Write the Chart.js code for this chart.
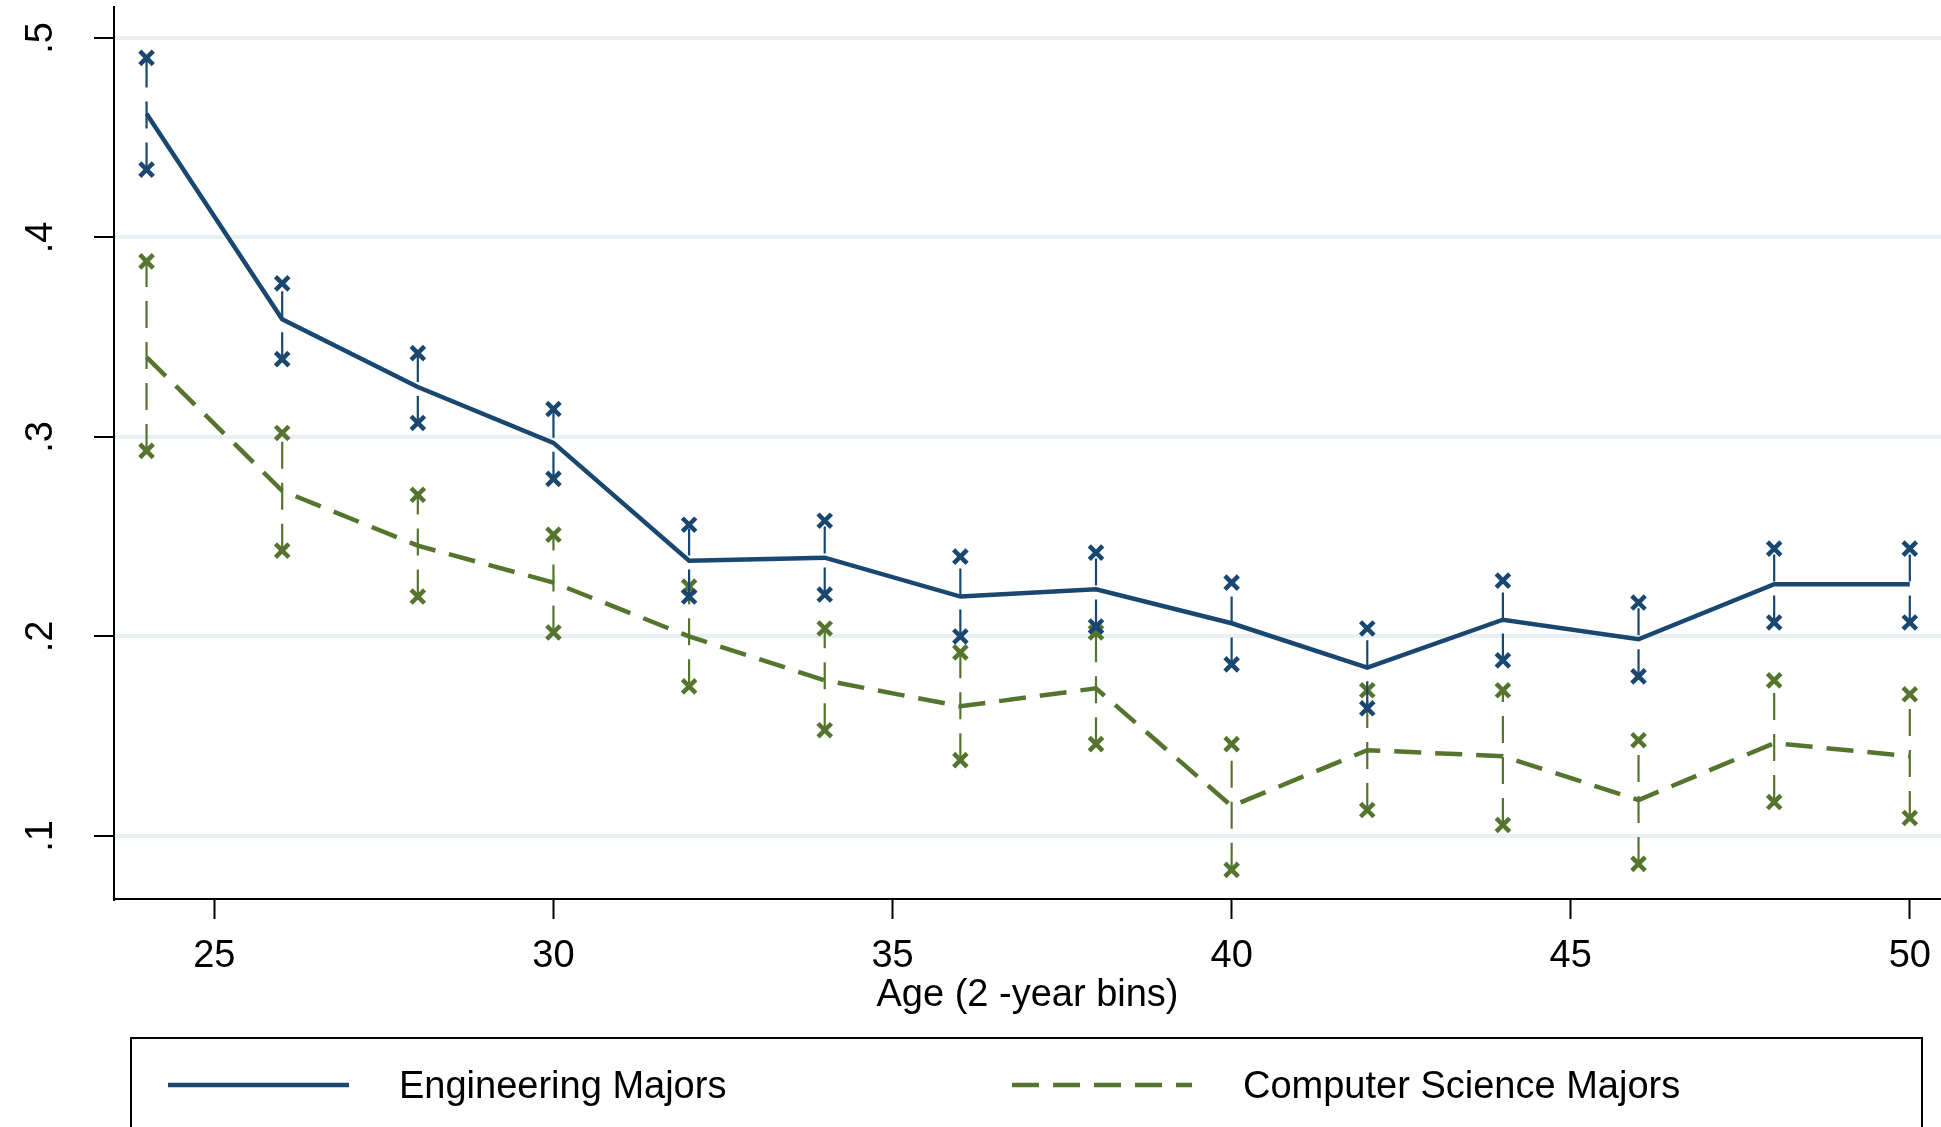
<!DOCTYPE html>
<html>
<head>
<meta charset="utf-8">
<title>Engineering vs Computer Science Majors by age</title>
<script src="https://cdn.jsdelivr.net/npm/chart.js@4.4.1/dist/chart.umd.min.js"></script>
<style>
  html, body { margin: 0; padding: 0; background: #fff; overflow: hidden; }
  #wrap { width: 1941px; height: 1127px; position: relative; }
</style>
</head>
<body>
<div id="wrap"><canvas id="chart"></canvas></div>
<script>
/* ---------- Data ---------- */
const ages = [24, 26, 28, 30, 32, 34, 36, 38, 40, 42, 44, 46, 48, 50];

const engMean = [0.462, 0.359, 0.325, 0.297, 0.238, 0.2395, 0.220, 0.2236, 0.2066, 0.1844, 0.2084, 0.1986, 0.2262, 0.2262];
const engHi   = [0.490, 0.377, 0.342, 0.314, 0.256, 0.258, 0.240, 0.242, 0.227, 0.204, 0.228, 0.217, 0.244, 0.244];
const engLo   = [0.434, 0.339, 0.307, 0.279, 0.220, 0.221, 0.200, 0.205, 0.186, 0.164, 0.188, 0.180, 0.207, 0.207];

const csMean = [0.340, 0.273, 0.2455, 0.227, 0.200, 0.178, 0.165, 0.174, 0.115, 0.143, 0.140, 0.118, 0.1465, 0.140];
const csHi   = [0.388, 0.302, 0.271, 0.251, 0.225, 0.204, 0.192, 0.202, 0.146, 0.173, 0.173, 0.148, 0.178, 0.171];
const csLo   = [0.293, 0.243, 0.220, 0.202, 0.175, 0.153, 0.138, 0.146, 0.083, 0.113, 0.1055, 0.086, 0.117, 0.109];

const xTicks = [25, 30, 35, 40, 45, 50];
const yTicks = [0.1, 0.2, 0.3, 0.4, 0.5];
const yTickLabels = [".1", ".2", ".3", ".4", ".5"];

const seriesNames = ["Engineering Majors", "Computer Science Majors"];
const xTitle = "Age (2 -year bins)";

/* ---------- Style ---------- */
const BLUE = "#1a476f";
const GREEN = "#55752f";
const FONT = "'Liberation Sans', Arial, sans-serif";
const FS = 38;
const DASH = [27, 14];

// vertical CI spikes, drawn lo -> hi, broken by a null between ages
function ciPoints(lo, hi) {
  const pts = [];
  ages.forEach((a, i) => {
    pts.push({ x: a, y: lo[i] }, { x: a, y: hi[i] }, { x: a, y: null });
  });
  return pts;
}
const line = (ys) => ages.map((a, i) => ({ x: a, y: ys[i] }));

/* ---------- Plugins ---------- */
// y tick labels turned 90°, as in the original
const rotatedYLabels = {
  id: "rotatedYLabels",
  afterDraw(chart) {
    const ctx = chart.ctx, s = chart.scales.y;
    ctx.save();
    ctx.font = FS + "px " + FONT;
    ctx.fillStyle = "#000";
    ctx.textAlign = "center";
    ctx.textBaseline = "alphabetic";
    yTicks.forEach((v, i) => {
      ctx.save();
      ctx.translate(52, s.getPixelForValue(v));
      ctx.rotate(-Math.PI / 2);
      ctx.fillText(yTickLabels[i], 0, 0);
      ctx.restore();
    });
    ctx.restore();
  }
};

// boxed legend under the axis (runs off the bottom of the picture)
const boxLegend = {
  id: "boxLegend",
  afterDraw(chart) {
    const ctx = chart.ctx;
    ctx.save();
    ctx.strokeStyle = "#000";
    ctx.lineWidth = 2;
    ctx.strokeRect(131, 1038, 1791, 200);

    const items = [
      { ds: chart.data.datasets[0], x0: 168, x1: 349, tx: 399 },
      { ds: chart.data.datasets[1], x0: 1012, x1: 1192, tx: 1243 }
    ];
    const y = 1085;
    items.forEach((it, i) => {
      ctx.beginPath();
      ctx.setLineDash(it.ds.borderDash || []);
      ctx.strokeStyle = it.ds.borderColor;
      ctx.lineWidth = it.ds.borderWidth;
      ctx.moveTo(it.x0, y);
      ctx.lineTo(it.x1, y);
      ctx.stroke();
      ctx.setLineDash([]);
      ctx.fillStyle = "#000";
      ctx.font = FS + "px " + FONT;
      ctx.textAlign = "left";
      ctx.textBaseline = "middle";
      ctx.fillText(seriesNames[i], it.tx, y + 3);
    });
    ctx.restore();
  }
};

/* ---------- Chart ---------- */
new Chart(document.getElementById("chart"), {
  type: "line",
  data: {
    datasets: [
      { label: seriesNames[0], data: line(engMean), borderColor: BLUE, borderWidth: 4.5,
        pointRadius: 0, tension: 0, fill: false },
      { label: seriesNames[1], data: line(csMean), borderColor: GREEN, borderWidth: 4.5,
        borderDash: DASH, pointRadius: 0, tension: 0, fill: false },
      { label: "eng ci", data: ciPoints(engLo, engHi), borderColor: BLUE, borderWidth: 2.2,
        borderDash: DASH, spanGaps: false, pointStyle: "crossRot", pointRadius: 9.5,
        pointBorderWidth: 4.5, pointBorderColor: BLUE, pointBackgroundColor: BLUE },
      { label: "cs ci", data: ciPoints(csLo, csHi), borderColor: GREEN, borderWidth: 2.2,
        borderDash: DASH, spanGaps: false, pointStyle: "crossRot", pointRadius: 9.5,
        pointBorderWidth: 4.5, pointBorderColor: GREEN, pointBackgroundColor: GREEN }
    ]
  },
  options: {
    responsive: true, maintainAspectRatio: false, animation: false,
    layout: { autoPadding: false, padding: { left: 94, right: 0, top: 7, bottom: 108 } },
    plugins: { legend: { display: false }, tooltip: { enabled: false }, title: { display: false } },
    scales: {
      x: {
        type: "linear", min: 23.52, max: 50.46,
        afterBuildTicks: (s) => { s.ticks = xTicks.map(v => ({ value: v })); },
        afterFit: (s) => { s.height = 120; s.paddingRight = 0; s.paddingLeft = 0; },
        ticks: { color: "#000", font: { family: FONT, size: FS }, padding: 15, maxRotation: 0, autoSkip: false,
          callback: (v) => String(v) },
        grid: { display: true, drawOnChartArea: false, drawTicks: true, tickLength: 20, tickWidth: 2, tickColor: "#000" },
        border: { display: true, color: "#000", width: 2 },
        title: { display: true, text: xTitle, color: "#000", font: { family: FONT, size: FS }, padding: { top: 0, bottom: 1 } }
      },
      y: {
        min: 0.0684, max: 0.5155,
        afterBuildTicks: (s) => { s.ticks = yTicks.map(v => ({ value: v })); },
        ticks: { display: false },
        grid: { color: "#e8f0f1", lineWidth: 4, drawTicks: true, tickLength: 20, tickWidth: 2, tickColor: "#000" },
        border: { display: true, color: "#000", width: 2 }
      }
    }
  },
  plugins: [rotatedYLabels, boxLegend]
});
</script>
</body>
</html>
